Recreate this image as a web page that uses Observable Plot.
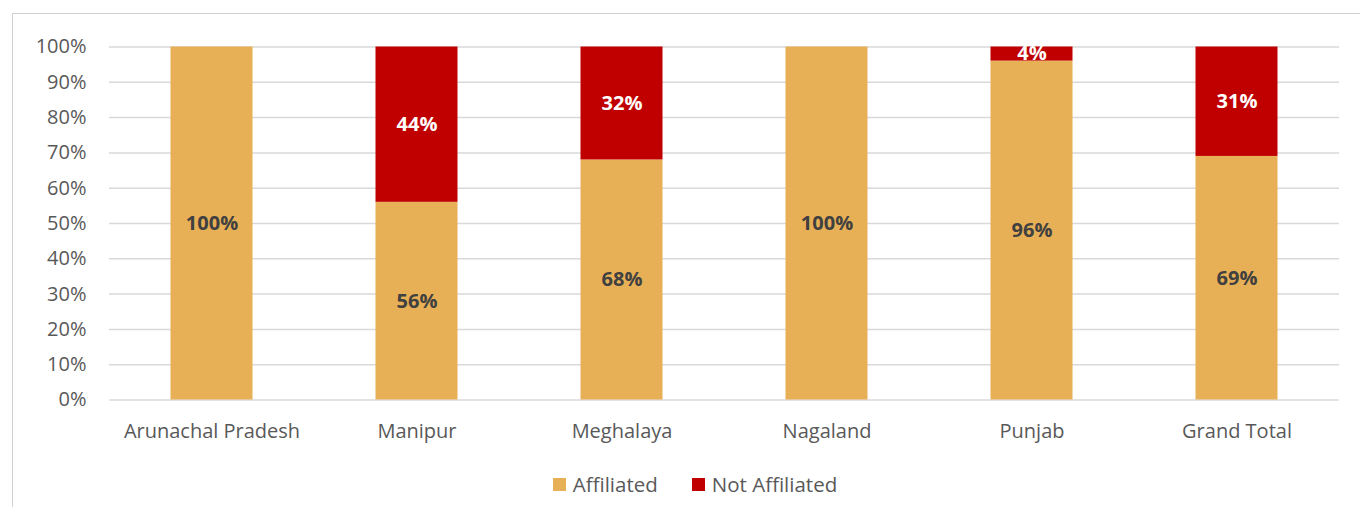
<!DOCTYPE html>
<html>
<head>
<meta charset="utf-8">
<script src="https://cdn.jsdelivr.net/npm/d3@7"></script>
<script src="https://cdn.jsdelivr.net/npm/@observablehq/plot@0.6"></script>
<style>
  html, body { margin: 0; padding: 0; background: #fff; }
  body { width: 1360px; height: 507px; position: relative; overflow: hidden; font-family: "Open Sans", sans-serif; }
  #frame { position: absolute; left: 12px; top: 13px; width: 1400px; height: 600px; border-left: 1px solid #d0d0d0; border-top: 1px solid #d0d0d0; }
  #chart { position: absolute; left: 0; top: 0; }
  #legend { position: absolute; left: 15px; width: 1360px; top: 470px; display: flex; justify-content: center; gap: 34px; font-size: 20.5px; color: #595959; }
  #legend .item { display: flex; align-items: center; gap: 7px; }
  #legend .sw { width: 13px; height: 13px; display: inline-block; }
</style>
</head>
<body>
<div id="frame"></div>
<div id="chart"></div>
<div id="legend"></div>
<script>
const categories = ["Arunachal Pradesh", "Manipur", "Meghalaya", "Nagaland", "Punjab", "Grand Total"];
const affiliated = [100, 56, 68, 100, 96, 69];
const notAffiliated = [0, 44, 32, 0, 4, 31];
const seriesNames = ["Affiliated", "Not Affiliated"];
const seriesColors = ["#E8B056", "#C00000"];
const labelColors = ["#404040", "#ffffff"];
const yTicks = [0, 10, 20, 30, 40, 50, 60, 70, 80, 90, 100];

const rows = [];
categories.forEach((c, i) => {
  rows.push({cat: c, series: seriesNames[0], value: affiliated[i]});
  rows.push({cat: c, series: seriesNames[1], value: notAffiliated[i]});
});
const labeled = rows.filter(d => d.value > 0);

const plot = Plot.plot({
  width: 1360,
  height: 455,
  marginTop: 46.5,
  marginBottom: 55.5,
  marginLeft: 109,
  marginRight: 21,
  style: { fontFamily: "Open Sans, sans-serif", fontSize: "20px", color: "#595959", background: "transparent" },
  x: { domain: categories, paddingInner: 0.6, paddingOuter: 0.3, round: false, label: null, tickSize: 0, tickPadding: 24 },
  y: { domain: [0, 100], ticks: yTicks, tickFormat: d => d + "%", label: null, tickSize: 0, tickPadding: 23 },
  color: { domain: seriesNames, range: seriesColors },
  marks: [
    Plot.ruleY(yTicks, { stroke: "#d9d9d9", strokeWidth: 1.5, strokeOpacity: 1 }),
    Plot.barY(rows, { x: "cat", y: "value", fill: "series", order: seriesNames }),
    Plot.text(labeled, Plot.stackY({
      x: "cat", y: "value", order: seriesNames,
      text: d => d.value + "%",
      fill: d => labelColors[seriesNames.indexOf(d.series)],
      fontWeight: "bold", fontSize: 20
    }))
  ]
});
document.getElementById("chart").appendChild(plot);

const legend = document.getElementById("legend");
seriesNames.forEach((s, i) => {
  const item = document.createElement("div");
  item.className = "item";
  const sw = document.createElement("span");
  sw.className = "sw";
  sw.style.background = seriesColors[i];
  const t = document.createElement("span");
  t.textContent = s;
  item.appendChild(sw);
  item.appendChild(t);
  legend.appendChild(item);
});
</script>
</body>
</html>
